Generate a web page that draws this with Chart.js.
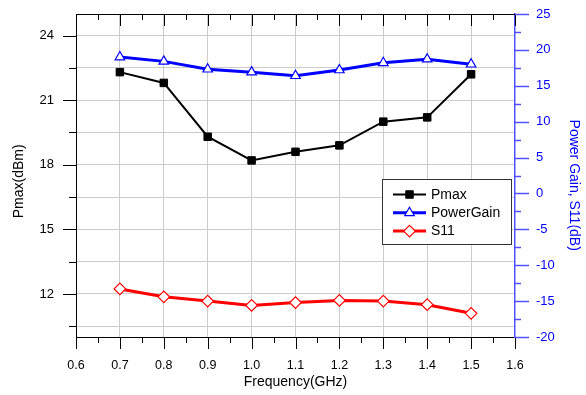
<!DOCTYPE html>
<html>
<head>
<meta charset="utf-8">
<script src="https://cdn.jsdelivr.net/npm/chart.js@4.4.1/dist/chart.umd.min.js"></script>
<style>
  html, body { margin: 0; padding: 0; background: #fff; }
  #wrap { width: 586px; height: 395px; position: relative; }
</style>
</head>
<body>
<div id="wrap"><canvas id="c"></canvas></div>
<script>
// ── Datos ─────────────────────────────────────────────────────────────
const freq      = [0.7, 0.8, 0.9, 1.0, 1.1, 1.2, 1.3, 1.4, 1.5];
const pmax      = [22.3, 21.8, 19.3, 18.2, 18.6, 18.9, 20.0, 20.2, 22.2];
const powerGain = [19.0, 18.4, 17.3, 16.9, 16.4, 17.2, 18.2, 18.7, 18.0];
const s11       = [-13.3, -14.4, -15.0, -15.6, -15.2, -14.9, -15.0, -15.5, -16.7];

const xTicks     = [0.6,0.65,0.7,0.75,0.8,0.85,0.9,0.95,1.0,1.05,1.1,1.15,1.2,1.25,1.3,1.35,1.4,1.45,1.5,1.55,1.6];
const leftTicks  = [10.5,12,13.5,15,16.5,18,19.5,21,22.5,24];
const rightTicks = [-20,-17.5,-15,-12.5,-10,-7.5,-5,-2.5,0,2.5,5,7.5,10,12.5,15,17.5,20,22.5,25];

const FONT = 'Arial, "Liberation Sans", sans-serif';
const BLUE = '#0000ff';
const AXIS_BLUE = '#5050ff';

const isMult = (v, step) => Math.abs(Math.round(v / step) * step - v) < 1e-6;
const isMajorX = v => isMult(v, 0.1);
const isMajorL = v => isMult(v, 3);
const isMajorR = v => isMult(v, 5);

function pts(ys) { return freq.map((x, i) => ({ x, y: ys[i] })); }

// el área del gráfico queda fija: 76..515 x 14..337
function fixVert(w) {
  return s => { s.width = w; s.paddingTop = 0; s.paddingBottom = 0; };
}

// ── Marcas de ejes y marco ──────────────────────────────────────────────
const frame = {
  id: 'frame',
  afterDatasetsDraw(chart) {
    const ctx = chart.ctx, a = chart.chartArea;
    const sx = chart.scales.x, sl = chart.scales.y, sr = chart.scales.y2;
    ctx.save();
    ctx.lineWidth = 1;
    // borde superior
    ctx.strokeStyle = '#000';
    ctx.beginPath();
    ctx.moveTo(a.left, a.top + 0.5); ctx.lineTo(a.right, a.top + 0.5);
    ctx.stroke();
    sx.ticks.forEach(t => {
      const px = Math.round(sx.getPixelForValue(t.value)) + 0.5;
      const len = isMajorX(t.value) ? 12 : 6;
      ctx.beginPath();
      ctx.moveTo(px, a.bottom); ctx.lineTo(px, a.bottom + len);
      ctx.moveTo(px, a.top); ctx.lineTo(px, a.top + len);
      ctx.stroke();
    });
    sl.ticks.forEach(t => {
      const py = Math.round(sl.getPixelForValue(t.value)) + 0.5;
      const len = isMajorL(t.value) ? 13 : 7;
      ctx.beginPath();
      ctx.moveTo(a.left - len, py); ctx.lineTo(a.left, py);
      ctx.stroke();
    });
    ctx.strokeStyle = AXIS_BLUE;
    ctx.lineWidth = 1.5;
    sr.ticks.forEach(t => {
      const py = Math.round(sr.getPixelForValue(t.value)) + 0.5;
      const len = isMajorR(t.value) ? 14 : 6;
      ctx.beginPath();
      ctx.moveTo(a.right, py); ctx.lineTo(a.right + len, py);
      ctx.stroke();
    });
    ctx.restore();
  }
};

// ── Leyenda dentro del área ─────────────────────────────────────────────
const boxLegend = {
  id: 'boxLegend',
  afterDraw(chart) {
    const ctx = chart.ctx;
    const bx = 382.5, by = 179.5, bw = 129, bh = 65;
    ctx.save();
    ctx.fillStyle = '#fff';
    ctx.fillRect(bx, by, bw, bh);
    ctx.strokeStyle = '#333';
    ctx.lineWidth = 1;
    ctx.strokeRect(bx, by, bw, bh);
    chart.data.datasets.forEach((ds, i) => {
      const y = 194.5 + i * 18.3;
      ctx.strokeStyle = ds.borderColor;
      ctx.lineWidth = ds.borderWidth;
      ctx.beginPath();
      ctx.moveTo(393, y); ctx.lineTo(426, y);
      ctx.stroke();
      ctx.lineWidth = ds.pointBorderWidth;
      ctx.fillStyle = ds.pointBackgroundColor;
      ctx.strokeStyle = ds.pointBorderColor;
      Chart.helpers.drawPoint(ctx, { pointStyle: ds.pointStyle, radius: ds.pointRadius, borderWidth: ds.pointBorderWidth, rotation: 0 }, 409.5, y);
      ctx.fillStyle = '#000';
      ctx.font = '14px ' + FONT;
      ctx.textBaseline = 'middle';
      ctx.fillText(ds.label, 431, y + 0.5);
    });
    ctx.restore();
  }
};

new Chart(document.getElementById('c'), {
  type: 'line',
  data: {
    datasets: [
      { label: 'Pmax', data: pts(pmax), yAxisID: 'y', borderColor: '#000', borderWidth: 2,
        pointStyle: 'rect', pointRadius: 5.3, pointBackgroundColor: '#000', pointBorderColor: '#000', pointBorderWidth: 1 },
      { label: 'PowerGain', data: pts(powerGain), yAxisID: 'y2', borderColor: BLUE, borderWidth: 3,
        pointStyle: 'triangle', pointRadius: 5.5, pointBackgroundColor: '#fff', pointBorderColor: BLUE, pointBorderWidth: 1.2 },
      { label: 'S11', data: pts(s11), yAxisID: 'y2', borderColor: '#ff0000', borderWidth: 3,
        pointStyle: 'rectRot', pointRadius: 5.8, pointBackgroundColor: '#fff', pointBorderColor: '#ff0000', pointBorderWidth: 1.2 }
    ]
  },
  options: {
    responsive: true, maintainAspectRatio: false, animation: false,
    layout: { padding: { top: 14, left: 0, right: 0, bottom: 0 } },
    plugins: { legend: { display: false }, tooltip: { enabled: false } },
    elements: { line: { tension: 0 } },
    scales: {
      x: {
        type: 'linear', position: 'bottom', min: 0.6, max: 1.6,
        afterBuildTicks: s => { s.ticks = xTicks.map(v => ({ value: v })); },
        afterFit: s => { s.height = 58; s.paddingLeft = 0; s.paddingRight = 0; },
        grid: { drawTicks: false, color: c => (c.tick && isMajorX(c.tick.value) && c.tick.value > 0.61 && c.tick.value < 1.59) ? '#cccccc' : 'transparent' },
        border: { display: true, color: '#000', width: 1 },
        ticks: { autoSkip: false, maxRotation: 0, padding: 21, color: '#000', font: { family: FONT, size: 12.5 },
          callback: v => isMajorX(v) ? Number(v).toFixed(1) : '' },
        title: { display: true, text: 'Frequency(GHz)', color: '#000', font: { family: FONT, size: 14 }, padding: { top: 0, bottom: 4 } }
      },
      y: {
        type: 'linear', position: 'left', min: 10, max: 25,
        afterBuildTicks: s => { s.ticks = leftTicks.map(v => ({ value: v })); },
        afterFit: fixVert(76),
        grid: { drawTicks: false, color: '#cccccc' },
        border: { display: true, color: '#000', width: 1 },
        ticks: { autoSkip: false, padding: 22, color: '#000', font: { family: FONT, size: 13 },
          callback: v => isMajorL(v) ? String(v) : '' },
        title: { display: true, text: 'Pmax(dBm)   ', color: '#000', font: { family: FONT, size: 14 }, padding: { top: 11, bottom: 0 } }
      },
      y2: {
        type: 'linear', position: 'right', min: -20, max: 25,
        afterBuildTicks: s => { s.ticks = rightTicks.map(v => ({ value: v })); },
        afterFit: fixVert(71),
        grid: { drawOnChartArea: false, drawTicks: false },
        border: { display: true, color: AXIS_BLUE, width: 1.5 },
        ticks: { autoSkip: false, padding: 21, color: BLUE, font: { family: FONT, size: 13 },
          callback: v => isMajorR(v) ? String(v) : '' },
        title: { display: true, text: '     Power Gain, S11(dB)', color: BLUE, font: { family: FONT, size: 14 }, padding: { top: 4, bottom: 0 } }
      }
    }
  },
  plugins: [frame, boxLegend]
});
</script>
</body>
</html>
